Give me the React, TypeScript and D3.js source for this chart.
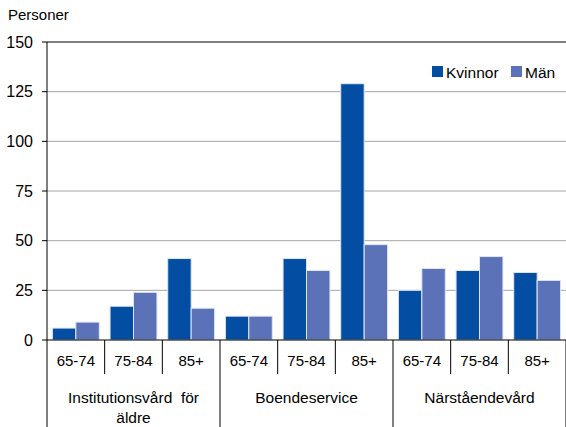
import React, { useRef, useEffect } from 'react';
import * as d3 from 'd3';

const groups = ['Institutionsvård  för|äldre', 'Boendeservice', 'Närståendevård'];
const ageBands = ['65-74', '75-84', '85+'];
const seriesNames = ['Kvinnor', 'Män'];
const kvinnor = [6, 17, 41, 12, 41, 129, 25, 35, 34];
const man = [9, 24, 16, 12, 35, 48, 36, 42, 30];
const yTicks = [0, 25, 50, 75, 100, 125, 150];
const colors = ['#034ea2', '#5b72b8'];

const App = () => {
  const svgRef = useRef(null);

  useEffect(() => {
    const svg = d3.select(svgRef.current);
    svg.selectAll('*').remove();

    const width = 566;
    const height = 427;
    const left = 47;
    const right = 566;
    const top = 42;
    const bottom = 340;
    const font = 'Liberation Sans, Arial, sans-serif';

    const cats = d3.range(9);
    const x = d3.scaleBand().domain(cats).range([left, right]);
    const xInner = d3.scaleBand().domain(seriesNames)
      .range([0, x.bandwidth()]).paddingOuter(0.23);
    const y = d3.scaleLinear().domain([0, 150]).range([bottom, top]);

    svg.append('rect').attr('width', width).attr('height', height).attr('fill', '#fff');

    // gridlines
    svg.append('g').selectAll('line')
      .data(yTicks.filter(d => d > 0 && d < 150))
      .enter().append('line')
      .attr('x1', left).attr('x2', right)
      .attr('y1', d => y(d)).attr('y2', d => y(d))
      .attr('stroke', '#a6a6a6').attr('stroke-width', 1);

    svg.append('line')
      .attr('x1', left).attr('x2', right)
      .attr('y1', y(150)).attr('y2', y(150))
      .attr('stroke', '#000').attr('stroke-width', 1);

    // bars
    const rows = cats.map(i => ({ i, values: [kvinnor[i], man[i]] }));
    const g = svg.append('g');
    rows.forEach(r => {
      r.values.forEach((v, s) => {
        g.append('rect')
          .attr('x', x(r.i) + xInner(seriesNames[s]))
          .attr('y', y(v))
          .attr('width', xInner.bandwidth())
          .attr('height', y(0) - y(v))
          .attr('fill', colors[s])
          .attr('stroke', '#dfe6f3')
          .attr('stroke-width', 1);
      });
    });

    // y axis
    svg.append('line')
      .attr('x1', left).attr('x2', left).attr('y1', top).attr('y2', height)
      .attr('stroke', '#000');
    const yAxis = svg.append('g');
    yAxis.selectAll('line').data(yTicks).enter().append('line')
      .attr('x1', left - 5).attr('x2', left)
      .attr('y1', d => y(d)).attr('y2', d => y(d))
      .attr('stroke', '#000');
    yAxis.selectAll('text').data(yTicks).enter().append('text')
      .attr('x', 33).attr('y', d => y(d) + 5.5)
      .attr('text-anchor', 'end')
      .attr('font-family', font).attr('font-size', 16)
      .text(d => d);

    svg.append('text').attr('x', 8).attr('y', 20)
      .attr('font-family', font).attr('font-size', 15).text('Personer');

    // x axis
    svg.append('line')
      .attr('x1', left).attr('x2', right).attr('y1', bottom).attr('y2', bottom)
      .attr('stroke', '#000');
    cats.forEach(i => {
      const xe = x(i) + x.bandwidth();
      const isGroupEdge = (i + 1) % 3 === 0;
      svg.append('line')
        .attr('x1', xe).attr('x2', xe)
        .attr('y1', bottom).attr('y2', isGroupEdge ? height : 374)
        .attr('stroke', '#000');
      svg.append('text')
        .attr('x', x(i) + x.bandwidth() / 2).attr('y', 366)
        .attr('text-anchor', 'middle')
        .attr('font-family', font).attr('font-size', 15)
        .text(ageBands[i % 3]);
    });
    groups.forEach((name, gi) => {
      const cx = x(gi * 3) + x.bandwidth() * 1.5;
      name.split('|').forEach((line, li) => {
        svg.append('text')
          .attr('x', cx).attr('y', 403 + li * 20)
          .attr('text-anchor', 'middle')
          .attr('font-family', font).attr('font-size', 15.5)
          .style('white-space', 'pre')
          .text(line);
      });
    });

    // legend
    const legend = svg.append('g');
    const legendX = [432, 511];
    seriesNames.forEach((name, s) => {
      legend.append('rect')
        .attr('x', legendX[s]).attr('y', 66).attr('width', 11).attr('height', 11)
        .attr('fill', colors[s]);
      legend.append('text')
        .attr('x', legendX[s] + 14).attr('y', 77.5)
        .attr('font-family', font).attr('font-size', 15.5)
        .text(name);
    });
  }, []);

  return (
    <svg
      ref={svgRef}
      width={566}
      height={427}
      style={{ position: 'absolute', left: 0, top: 0 }}
    />
  );
};

export default App;
